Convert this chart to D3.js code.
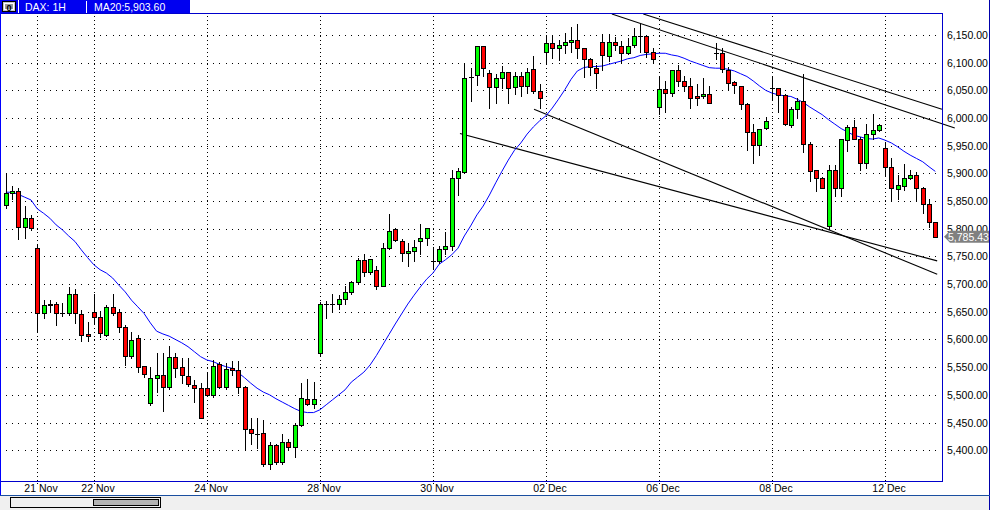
<!DOCTYPE html>
<html><head><meta charset="utf-8">
<script src="https://cdn.jsdelivr.net/npm/d3@7"></script>
<style>html,body{margin:0;padding:0;background:#fff;overflow:hidden}</style>
</head><body>
<svg id="c" width="990" height="510"></svg>
<script>
// ---- DATA (hourly DAX bars, 18 Nov – 12 Dec) ----
const opens = [5843,5864,5869,5804,5819,5766,5648,5662,5665,5648,
5647,5683,5646,5610,5650,5641,5609,5659,5649,5622,
5571,5602,5552,5485,5530,5535,5514,5568,5550,5534,
5517,5512,5512,5499,5555,5515,5548,5544,5514,5438,
5430,5432,5375,5409,5378,5414,5405,5445,5492,5483,
5576,5665,5665,5665,5674,5685,5703,5744,5721,5726,
5697,5766,5799,5778,5756,5759,5777,5783,5741,5741,
5763,5768,5891,5902,6074,6078,6130,6081,6056,6072,
6083,6056,6076,6057,6089,6048,6119,6135,6126,6132,
6138,6141,6126,6106,6090,6138,6112,6138,6131,6117,
6132,6149,6148,6119,6020,6052,6045,6087,6067,6058,
6040,6040,6043,6117,6117,6087,6065,6058,6025,5974,
5951,5982,6055,6054,6042,5987,6016,6031,5953,5906,
5891,5805,5906,5873,5960,5983,5963,5918,5972,5978,
5945,5912,5871,5878,5891,5897,5873,5844,5812];
const highs = [5900,5877,5873,5841,5825,5772,5671,5671,5668,5666,
5695,5691,5653,5631,5682,5652,5662,5682,5655,5626,
5613,5608,5553,5550,5575,5575,5588,5575,5566,5566,
5526,5521,5539,5563,5560,5557,5561,5562,5516,5458,
5458,5455,5415,5412,5430,5421,5449,5521,5528,5524,
5668,5670,5683,5680,5697,5705,5748,5754,5746,5732,
5774,5827,5801,5781,5774,5780,5809,5802,5767,5768,
5794,5906,5910,6097,6090,6130,6131,6086,6079,6094,
6083,6083,6083,6090,6112,6061,6149,6149,6141,6153,
6164,6169,6126,6108,6096,6151,6151,6146,6140,6145,
6162,6169,6150,6126,6076,6067,6087,6096,6076,6072,
6061,6072,6057,6135,6127,6093,6067,6058,6027,5990,
5980,6002,6075,6055,6043,6020,6037,6079,5956,5906,
5893,5915,5915,5962,5987,5996,5966,5990,6007,5990,
5957,5927,5897,5917,5907,5903,5876,5854,5813];
const lows = [5837,5853,5781,5783,5797,5614,5638,5650,5626,5643,
5644,5629,5598,5598,5628,5605,5607,5644,5614,5554,
5566,5541,5532,5482,5506,5470,5510,5532,5521,5516,
5487,5458,5499,5497,5512,5510,5535,5503,5400,5411,
5404,5372,5366,5375,5375,5402,5387,5443,5481,5477,
5572,5638,5650,5655,5664,5683,5700,5715,5719,5691,
5697,5763,5778,5741,5733,5741,5754,5771,5727,5738,
5754,5762,5861,5900,6030,6060,6076,6018,6027,6054,
6027,6043,6039,6046,6045,6018,6102,6108,6105,6117,
6120,6108,6075,6077,6055,6087,6103,6123,6101,6115,
6129,6119,6110,6101,6007,6011,6039,6057,6049,6019,
6024,6036,6028,6106,6083,6052,6045,6016,5942,5919,
5933,5980,6033,6010,5987,5983,6001,5939,5887,5868,
5873,5801,5859,5859,5940,5962,5906,5909,5963,5976,
5895,5851,5853,5870,5890,5851,5829,5804,5785];
const closes = [5864,5869,5804,5819,5801,5648,5662,5665,5648,5648,
5683,5647,5608,5606,5640,5611,5659,5648,5622,5571,
5599,5550,5538,5530,5535,5515,5568,5548,5535,5519,
5512,5458,5499,5553,5514,5546,5544,5514,5438,5431,
5430,5376,5409,5378,5414,5405,5445,5494,5483,5492,
5664,5665,5665,5674,5685,5703,5744,5721,5745,5697,
5766,5796,5780,5756,5760,5767,5783,5801,5741,5763,
5769,5891,5904,6072,6074,6130,6090,6056,6072,6083,
6055,6076,6057,6083,6048,6036,6135,6126,6132,6138,
6141,6126,6106,6092,6081,6114,6138,6132,6117,6131,
6149,6149,6119,6106,6052,6045,6087,6067,6058,6037,
6037,6043,6028,6117,6089,6063,6060,6025,5974,5951,
5980,5994,6055,6042,5989,6016,6031,5953,5905,5891,
5874,5906,5873,5962,5983,5963,5918,5972,5978,5987,
5911,5873,5879,5891,5897,5873,5844,5812,5785.43];
const ma20 = [5866,5866,5862,5857,5852,5836,5828,5819,5807,5798,
5787,5777,5762,5748,5735,5726,5720,5711,5698,5686,
5671,5659,5647,5630,5615,5610,5606,5600,5594,5587,
5578,5569,5563,5560,5555,5551,5548,5540,5531,5521,
5512,5505,5500,5493,5487,5481,5475,5470,5468,5468,
5473,5482,5491,5500,5509,5523,5532,5541,5554,5571,
5590,5609,5628,5646,5664,5680,5695,5709,5720,5736,
5744,5753,5765,5787,5805,5825,5841,5861,5883,5904,
5924,5942,5955,5971,5984,5995,6004,6018,6034,6051,
6070,6085,6091,6093,6093,6094,6097,6100,6103,6107,
6109,6113,6115,6116,6117,6117,6114,6112,6108,6103,
6099,6095,6091,6090,6090,6088,6085,6080,6075,6067,
6058,6050,6045,6042,6040,6039,6034,6028,6020,6013,
6006,5997,5989,5981,5975,5969,5966,5963,5962,5964,
5960,5955,5948,5940,5933,5927,5921,5912,5903.6];
const dateTickIndex = [5,14,32,50,68,86,104,122,140];
const dateTickLabels = ["21 Nov","22 Nov","24 Nov","28 Nov","30 Nov","02 Dec","06 Dec","08 Dec","12 Dec"];
const priceTicks = [5400,5450,5500,5550,5600,5650,5700,5750,5800,5850,5900,5950,6000,6050,6100,6150];
// trend lines: [barIndex, price] pairs
const trendStart = [[101.5,6188],[96.5,6188],[72.3,5972],[84.1,6016]];
const trendEnd   = [[149.06,6016],[151.1,5982],[148.3,5742],[148.3,5718]];
const symbolText = "DAX: 1H";
const maText = "MA20:5,903.60";
const lastPrice = 5785.43;

// ---- LAYOUT ----
const svg = d3.select("#c");
const L = 1, R = 942, T = 14, B = 481;
const FONT = "'Liberation Sans', Arial, sans-serif";
const x = d3.scaleLinear().domain([0, 148]).range([5.9, 935.3]);
const y = d3.scaleLinear().domain([5344.4, 6187.9]).range([B, T]);
const fmt = d3.format(",.2f");
const n = closes.length;

// background
svg.append("rect").attr("x",0).attr("y",0).attr("width",990).attr("height",510).attr("fill","#fff");
svg.append("rect").attr("x",0).attr("y",496).attr("width",990).attr("height",14).attr("fill","#f0f0f0");

// horizontal dotted grid: dots at every bar position
const gGrid = svg.append("g");
priceTicks.forEach(p => {
  const yy = Math.round(y(p));
  gGrid.selectAll(null).data(d3.range(n)).enter().append("rect")
    .attr("x", i => Math.round(x(i))).attr("y", yy).attr("width",1).attr("height",1).attr("fill","#000");
});
// vertical dotted grid
dateTickIndex.forEach(i => {
  const xx = Math.round(x(i)) + 0.5;
  gGrid.append("line").attr("x1",xx).attr("x2",xx).attr("y1",T+2).attr("y2",B)
    .attr("stroke","#000").attr("stroke-width",1).attr("stroke-dasharray","1,3");
  gGrid.append("line").attr("x1",xx).attr("x2",xx).attr("y1",B+2).attr("y2",B+6)
    .attr("stroke","#000").attr("stroke-width",1).attr("stroke-dasharray","1,3");
});

// trend lines
const gTrend = svg.append("g");
trendStart.forEach((s, k) => {
  const e = trendEnd[k];
  gTrend.append("line").attr("x1", x(s[0])).attr("y1", y(s[1])).attr("x2", x(e[0])).attr("y2", y(e[1]))
    .attr("stroke","#000").attr("stroke-width",1.1);
});

// MA20 line
svg.append("path").datum(ma20)
  .attr("d", d3.line().x((d,i) => x(i)).y(d => y(d)))
  .attr("fill","none").attr("stroke","#0000ff").attr("stroke-width",1);

// candles
const gC = svg.append("g");
for (let i = 0; i < n; i++) {
  const cx = Math.round(x(i));
  const o = opens[i], c = closes[i];
  gC.append("line").attr("x1",cx+0.5).attr("x2",cx+0.5)
    .attr("y1",Math.round(y(highs[i]))).attr("y2",Math.round(y(lows[i]))+1)
    .attr("stroke","#000").attr("stroke-width",1);
  const yt = Math.round(y(Math.max(o,c))), yb = Math.round(y(Math.min(o,c)));
  if (yb - yt < 1) {
    gC.append("line").attr("x1",cx-2).attr("x2",cx+3).attr("y1",yt+0.5).attr("y2",yt+0.5)
      .attr("stroke","#000").attr("stroke-width",1);
  } else {
    gC.append("rect").attr("x",cx-1.5).attr("y",yt+0.5).attr("width",4).attr("height",yb-yt)
      .attr("fill", c > o ? "#00ff00" : "#ff0000").attr("stroke","#000").attr("stroke-width",1);
  }
}

// frame
svg.append("rect").attr("x",0.5).attr("y",T-0.5).attr("width",R).attr("height",B-T+1)
  .attr("fill","none").attr("stroke","#0000cc").attr("stroke-width",1);
svg.append("line").attr("x1",0.5).attr("x2",0.5).attr("y1",0).attr("y2",496).attr("stroke","#0000ff");
svg.append("line").attr("x1",989.5).attr("x2",989.5).attr("y1",0).attr("y2",510).attr("stroke","#0000aa");
svg.append("line").attr("x1",0).attr("x2",990).attr("y1",495.5).attr("y2",495.5).attr("stroke","#1a4fa0");

// right price axis
const gY = svg.append("g");
priceTicks.forEach(p => {
  gY.append("text").attr("x",947).attr("y",Math.round(y(p))+4)
    .attr("font-family",FONT).attr("font-size","10.5px").attr("fill","#000").text(fmt(p));
});
// last price marker
const ly = y(lastPrice);
svg.append("path").attr("d", `M944,${ly} L950,${ly-6} L989,${ly-6} L989,${ly+6} L950,${ly+6} Z`).attr("fill","#808080");
svg.append("text").attr("x",948).attr("y",ly+4).attr("font-family",FONT).attr("font-size","10.5px")
  .attr("fill","#fff").text(fmt(lastPrice));

// bottom date labels
dateTickIndex.forEach((i, k) => {
  svg.append("text").attr("x", Math.round(x(i)) + 4).attr("y", 492).attr("text-anchor","middle")
    .attr("font-family",FONT).attr("font-size","10.5px").attr("fill","#000").text(dateTickLabels[k]);
});

// scrollbar
svg.append("rect").attr("x",10.5).attr("y",497.5).attr("width",150).attr("height",10).attr("fill","#f0f0f0").attr("stroke","#000");
svg.append("rect").attr("x",93.5).attr("y",499.5).attr("width",65).attr("height",6).attr("fill","#b4b4b4").attr("stroke","#000");

// header
svg.append("rect").attr("x",0).attr("y",0).attr("width",190).attr("height",13).attr("fill","#0000f0");
svg.append("rect").attr("x",2.5).attr("y",1.5).attr("width",13).attr("height",10).attr("fill","#c8c8c8").attr("stroke","#000");
svg.append("rect").attr("x",4.5).attr("y",3.5).attr("width",9).attr("height",6).attr("fill","#9a9a9a").attr("stroke","#fff");
svg.append("text").attr("x",9).attr("y",10.5).attr("text-anchor","middle").attr("font-family",FONT)
  .attr("font-size","9px").attr("font-weight","bold").attr("fill","#000").text("0");
svg.append("line").attr("x1",18.5).attr("x2",18.5).attr("y1",0).attr("y2",13).attr("stroke","#fff");
svg.append("line").attr("x1",86.5).attr("x2",86.5).attr("y1",1).attr("y2",13).attr("stroke","#fff");
svg.append("text").attr("x",25).attr("y",11).attr("font-family",FONT).attr("font-size","10.5px").attr("fill","#fff").text(symbolText);
svg.append("text").attr("x",94).attr("y",11).attr("font-family",FONT).attr("font-size","10.5px").attr("fill","#fff").text(maText);
</script>
</body></html>
